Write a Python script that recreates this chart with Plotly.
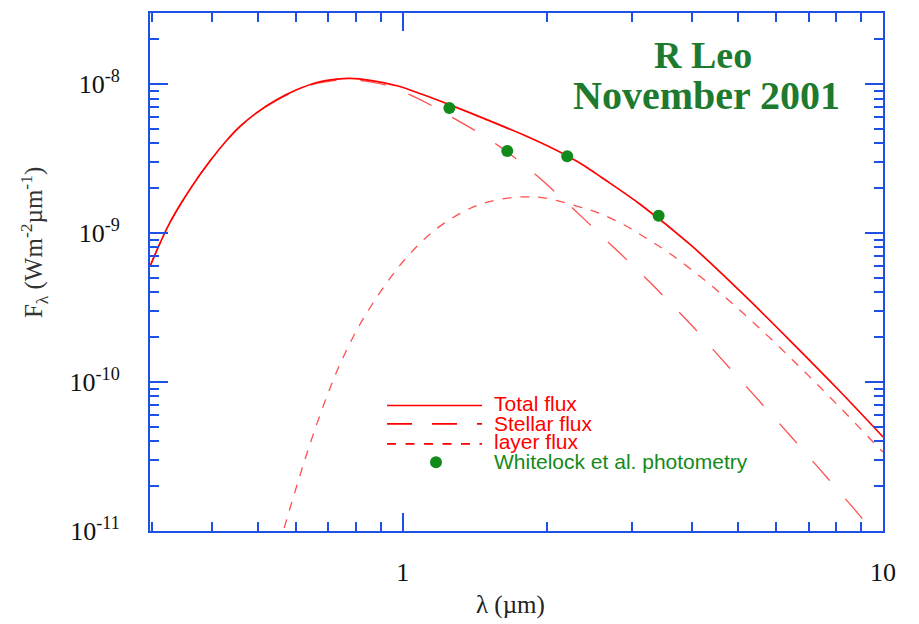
import math
import plotly.graph_objects as go

# ---------------- data ----------------
wl_total = [0.2975, 0.327, 0.363, 0.397, 0.430, 0.458, 0.497, 0.546, 0.601, 0.662,
            0.729, 0.777, 0.855, 0.972, 1.10, 1.254, 1.595, 1.80, 2.0, 2.197,
            2.40, 2.60, 3.12, 3.97, 5.04, 6.41, 8.15, 10.0]
flux_total = [5.98e-10, 1.17e-9, 2.04e-9, 3.06e-9, 4.2e-9, 5.2e-9, 6.45e-9, 7.85e-9, 9.15e-9, 1.025e-8,
              1.08e-8, 1.092e-8, 1.06e-8, 9.75e-9, 8.51e-9, 7.25e-9, 5.3e-9, 4.5e-9, 3.85e-9, 3.3e-9,
              2.8e-9, 2.35e-9, 1.56e-9, 8.35e-10, 4.07e-10, 1.89e-10, 8.6e-11, 4.28e-11]

wl_stellar = [0.2975, 0.327, 0.363, 0.397, 0.430, 0.458, 0.497, 0.546, 0.601, 0.662,
              0.729, 0.777, 0.855, 0.93, 1.036, 1.14, 1.254, 1.426, 1.595, 1.755,
              1.932, 2.178, 2.417, 2.66, 2.975, 3.275, 3.635, 4.0, 4.40, 4.85,
              5.33, 5.87, 6.46, 7.06, 7.70, 8.41, 9.19, 10.0]
flux_stellar = [5.98e-10, 1.17e-9, 2.04e-9, 3.06e-9, 4.18e-9, 5.17e-9, 6.4e-9, 7.78e-9, 9.05e-9, 1.01e-8,
                1.06e-8, 1.07e-8, 1.035e-8, 9.745e-9, 8.47e-9, 7.27e-9, 6.09e-9, 4.80e-9, 3.788e-9, 3.011e-9,
                2.323e-9, 1.632e-9, 1.193e-9, 8.86e-10, 6.30e-10, 4.656e-10, 3.30e-10, 2.394e-10, 1.689e-10, 1.19e-10,
                8.48e-11, 5.99e-11, 4.24e-11, 3.066e-11, 2.224e-11, 1.601e-11, 1.148e-11, 8.35e-12]

wl_layer = [0.555, 0.564, 0.592, 0.621, 0.651, 0.695, 0.740, 0.815, 0.926, 1.019,
            1.158, 1.359, 1.52, 1.70, 1.83, 1.963, 2.34, 2.576, 2.93, 3.22,
            3.61, 4.44, 5.47, 6.73, 8.15, 9.95, 10.0]
flux_layer = [8.0e-12, 1.0e-11, 1.70e-11, 2.81e-11, 4.47e-11, 8.05e-11, 1.32e-10, 2.45e-10, 4.64e-10, 6.87e-10,
              1.03e-9, 1.43e-9, 1.63e-9, 1.735e-9, 1.75e-9, 1.725e-9, 1.495e-9, 1.35e-9, 1.107e-9, 9.19e-10,
              7.23e-10, 4.31e-10, 2.376e-10, 1.25e-10, 6.71e-11, 3.44e-11, 3.39e-11]

wl_phot = [1.25, 1.65, 2.2, 3.41]
flux_phot = [6.9e-9, 3.56e-9, 3.28e-9, 1.305e-9]

x_range = [0.2975, 10.0]
y_range = [1e-11, 3e-8]
x_tickvals = [1, 10]
x_ticktext = ["1", "10"]
x_minor = [0.3, 0.4, 0.5, 0.6, 0.7, 0.8, 0.9, 2, 3, 4, 5, 6, 7, 8, 9]
y_tickvals = [1e-11, 1e-10, 1e-9, 1e-8]
y_ticktext = ["10<sup>-11</sup>", "10<sup>-10</sup>", "10<sup>-9</sup>", "10<sup>-8</sup>"]
y_minor = [m * 10.0 ** e for e in (-11, -10, -9, -8) for m in range(2, 10)]

legend_labels = ["Total flux", "Stellar flux", "layer flux", "Whitelock et al. photometry"]
title_lines = ["R Leo", "November 2001"]

# ---------------- styles ----------------
BLUE = "#1f50e6"
RED = "#ff0000"
DASHRED = "rgba(255,30,30,0.78)"
GREEN = "#138a1c"
TITLE_GREEN = "#1d7a2e"
SERIF = "Liberation Serif, Times New Roman, serif"
SANS = "Liberation Sans, Arial, sans-serif"
DASH_STELLAR = "26px,24px"
DASH_LAYER = "9px,9px"

fig = go.Figure()
fig.add_trace(go.Scatter(x=wl_layer, y=flux_layer, mode="lines", line_shape="spline",
                         line=dict(color=DASHRED, width=1.3, dash=DASH_LAYER),
                         name=legend_labels[2], showlegend=False))
fig.add_trace(go.Scatter(x=wl_stellar, y=flux_stellar, mode="lines", line_shape="spline",
                         line=dict(color=DASHRED, width=1.3, dash=DASH_STELLAR),
                         name=legend_labels[1], showlegend=False))
fig.add_trace(go.Scatter(x=wl_total, y=flux_total, mode="lines", line_shape="spline",
                         line=dict(color=RED, width=1.7),
                         name=legend_labels[0], showlegend=False))
fig.add_trace(go.Scatter(x=wl_phot, y=flux_phot, mode="markers",
                         marker=dict(color=GREEN, size=12),
                         name=legend_labels[3], showlegend=False))

axis_common = dict(
    type="log", showline=True, linecolor=BLUE, linewidth=2, mirror="ticks",
    ticks="inside", ticklen=18, tickwidth=2, tickcolor=BLUE,
    showgrid=False, zeroline=False,
    tickfont=dict(family=SERIF, size=26, color="#111111"),
    tickmode="array",
)
fig.update_xaxes(**axis_common,
                 range=[math.log10(x_range[0]), math.log10(x_range[1])],
                 tickvals=x_tickvals, ticktext=x_ticktext, ticklabelstandoff=17,
                 minor=dict(ticks="inside", ticklen=9, tickwidth=2, tickcolor=BLUE,
                            tickmode="array", tickvals=x_minor, showgrid=False))
fig.update_yaxes(**axis_common,
                 range=[math.log10(y_range[0]), math.log10(y_range[1])],
                 tickvals=y_tickvals, ticktext=y_ticktext, ticklabelstandoff=23,
                 minor=dict(ticks="inside", ticklen=9, tickwidth=2, tickcolor=BLUE,
                            tickmode="array", tickvals=y_minor, showgrid=False))

W, H = 919, 624
L, R, T, B = 150, 36, 11, 93
pw, ph = W - L - R, H - T - B


def px(xp):
    return (xp - L) / pw


def py(yp):
    return (H - B - yp) / ph


annotations = [
    dict(text=title_lines[0], x=px(703), y=py(53), xref="paper", yref="paper",
         showarrow=False, xanchor="center", yanchor="middle",
         font=dict(family=SERIF, size=38, color=TITLE_GREEN, weight="bold")),
    dict(text=title_lines[1], x=px(706), y=py(94), xref="paper", yref="paper",
         showarrow=False, xanchor="center", yanchor="middle",
         font=dict(family=SERIF, size=40, color=TITLE_GREEN, weight="bold")),
    dict(text="λ (µm)", x=px(510), y=py(605), xref="paper", yref="paper",
         showarrow=False, xanchor="center", yanchor="middle",
         font=dict(family=SERIF, size=25, color="#222222")),
    dict(text="F<sub>λ</sub> (Wm<sup>-2</sup>µm<sup>-1</sup>)", x=px(34), y=py(242),
         xref="paper", yref="paper", showarrow=False, textangle=-90,
         xanchor="center", yanchor="middle",
         font=dict(family=SERIF, size=25, color="#333333")),
]
leg_y = [403.5, 423, 441.5, 461.5]
leg_colors = [RED, RED, RED, GREEN]
for lab, yy, cc in zip(legend_labels, leg_y, leg_colors):
    annotations.append(dict(text=lab, x=px(492), y=py(yy), xref="paper", yref="paper",
                            showarrow=False, xanchor="left", yanchor="middle",
                            font=dict(family=SANS, size=21, color=cc)))

shapes = [
    dict(type="line", xref="paper", yref="paper", x0=px(387), x1=px(482), y0=py(405), y1=py(405),
         line=dict(color=RED, width=1.7)),
    dict(type="line", xref="paper", yref="paper", x0=px(387), x1=px(482), y0=py(423.5), y1=py(423.5),
         line=dict(color=RED, width=1.7, dash="25px,20px")),
    dict(type="line", xref="paper", yref="paper", x0=px(387), x1=px(482), y0=py(443.5), y1=py(443.5),
         line=dict(color=RED, width=1.7, dash="9px,9.5px")),
    dict(type="circle", xref="paper", yref="paper", xsizemode="pixel", ysizemode="pixel",
         xanchor=px(436), yanchor=py(462), x0=-6, x1=6, y0=-6, y1=6,
         fillcolor=GREEN, line=dict(color=GREEN, width=0)),
]

fig.update_layout(
    width=W, height=H,
    margin=dict(l=L, r=R, t=T, b=B, pad=0),
    paper_bgcolor="white", plot_bgcolor="white",
    showlegend=False,
    annotations=annotations,
    shapes=shapes,
)

fig.write_html("out.html", config={"displayModeBar": False},
               post_script="document.body.style.margin='0px';")
